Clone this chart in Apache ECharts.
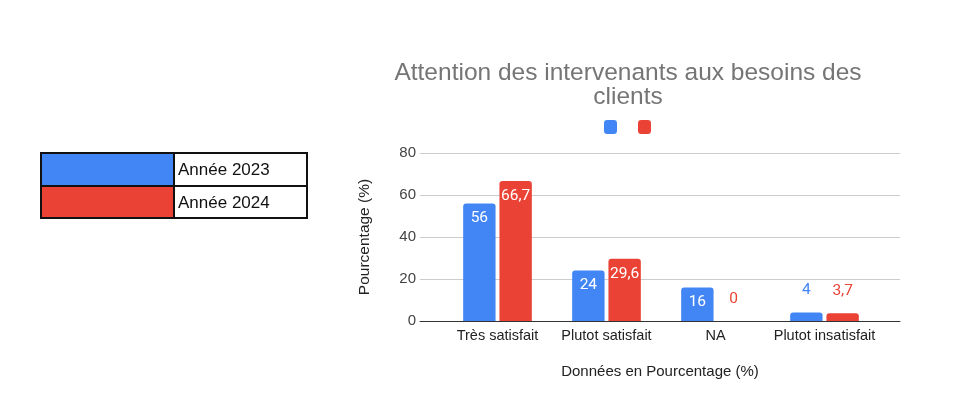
<!DOCTYPE html>
<html><head><meta charset="utf-8">
<script src="https://cdn.jsdelivr.net/npm/echarts@6/dist/echarts.min.js"></script>
<style>html,body{margin:0;padding:0;background:#fff}#c{width:966px;height:395px}</style>
</head><body><div id="c"></div>
<script>
const categories = ['Très satisfait', 'Plutot satisfait', 'NA', 'Plutot insatisfait'];
const values2023 = [56, 24, 16, 4];
const values2024 = [66.7, 29.6, 0, 3.7];
const seriesNames = ['Année 2023', 'Année 2024'];
const yTicks = [0, 20, 40, 60, 80];
const colors = ['#4285F4', '#EA4335'];

const fmt = v => String(v).replace('.', ',');
function mkData(vals, color) {
  return vals.map(v => ({
    value: v,
    label: v >= 10
      ? { position: 'insideTop', distance: 7, color: '#fff' }
      : { position: 'top', distance: 14, color: color }
  }));
}

const chart = echarts.init(document.getElementById('c'));
const font = 'Arial, "Liberation Sans", sans-serif';
chart.setOption({
  animation: false,
  title: {
    text: 'Attention des intervenants aux besoins des\nclients',
    left: 623, top: 56, textAlign: 'center',
    textStyle: { fontFamily: font, fontSize: 24.5, fontWeight: 'normal', color: '#757575', lineHeight: 24 }
  },
  legend: {
    top: 115, left: 599,
    itemWidth: 13, itemHeight: 14, itemGap: 21, icon: 'roundRect',
    formatter: () => '',
    data: seriesNames
  },
  grid: [
    { left: 420, right: 66, top: 153, bottom: 74 },
    { left: 443, right: 87, top: 153, bottom: 74 }
  ],
  xAxis: [
    { gridIndex: 0, type: 'value', min: 0, max: 1, show: true,
      axisLine: { show: true, onZero: false, lineStyle: { color: '#333', width: 1 } },
      axisTick: { show: false }, axisLabel: { show: false }, splitLine: { show: false },
      name: 'Données en Pourcentage (%)', nameLocation: 'middle', nameGap: 43,
      nameTextStyle: { fontFamily: font, fontSize: 15, color: '#222' } },
    { gridIndex: 1, type: 'category', data: categories,
      axisLine: { show: false }, axisTick: { show: false },
      axisLabel: { interval: 0, fontFamily: font, fontSize: 14.5, color: '#222', margin: 7 } }
  ],
  yAxis: [
    { gridIndex: 0, type: 'value', min: yTicks[0], max: yTicks[yTicks.length - 1], interval: 20,
      axisLine: { show: false }, axisTick: { show: false },
      axisLabel: { fontFamily: font, fontSize: 15, color: '#444', margin: 4 },
      splitLine: { lineStyle: { color: '#ccc' } },
      name: 'Pourcentage (%)', nameLocation: 'middle', nameGap: 47, nameRotate: 90,
      nameTextStyle: { fontFamily: font, fontSize: 15.5, color: '#222' } },
    { gridIndex: 1, type: 'value', min: yTicks[0], max: yTicks[yTicks.length - 1], interval: 20,
      show: false }
  ],
  series: [
    { name: seriesNames[0], type: 'bar', xAxisIndex: 1, yAxisIndex: 1,
      data: mkData(values2023, colors[0]), itemStyle: { color: colors[0], borderRadius: [3, 3, 0, 0] },
      barGap: '12%', barCategoryGap: '37%',
      label: { show: true, fontFamily: 'Roboto, Arial, sans-serif', fontSize: 15.5, formatter: p => fmt(p.value) } },
    { name: seriesNames[1], type: 'bar', xAxisIndex: 1, yAxisIndex: 1,
      data: mkData(values2024, colors[1]), itemStyle: { color: colors[1], borderRadius: [3, 3, 0, 0] },
      barGap: '12%', barCategoryGap: '37%',
      label: { show: true, fontFamily: 'Roboto, Arial, sans-serif', fontSize: 15.5, formatter: p => fmt(p.value) } }
  ],
  graphic: [
    { type: 'rect', shape: { x: 41, y: 153, width: 133, height: 33 }, style: { fill: colors[0] } },
    { type: 'rect', shape: { x: 41, y: 186, width: 133, height: 32 }, style: { fill: colors[1] } },
    { type: 'rect', shape: { x: 41, y: 153, width: 266, height: 65 }, style: { fill: 'none', stroke: '#111', lineWidth: 2 } },
    { type: 'line', shape: { x1: 41, y1: 186, x2: 307, y2: 186 }, style: { stroke: '#111', lineWidth: 2 } },
    { type: 'line', shape: { x1: 174, y1: 153, x2: 174, y2: 218 }, style: { stroke: '#111', lineWidth: 2 } },
    { type: 'text', x: 178, y: 170, style: { text: seriesNames[0], fontFamily: font, fontSize: 17, fill: '#111', verticalAlign: 'middle' } },
    { type: 'text', x: 178, y: 203, style: { text: seriesNames[1], fontFamily: font, fontSize: 17, fill: '#111', verticalAlign: 'middle' } }
  ]
});
</script></body></html>
